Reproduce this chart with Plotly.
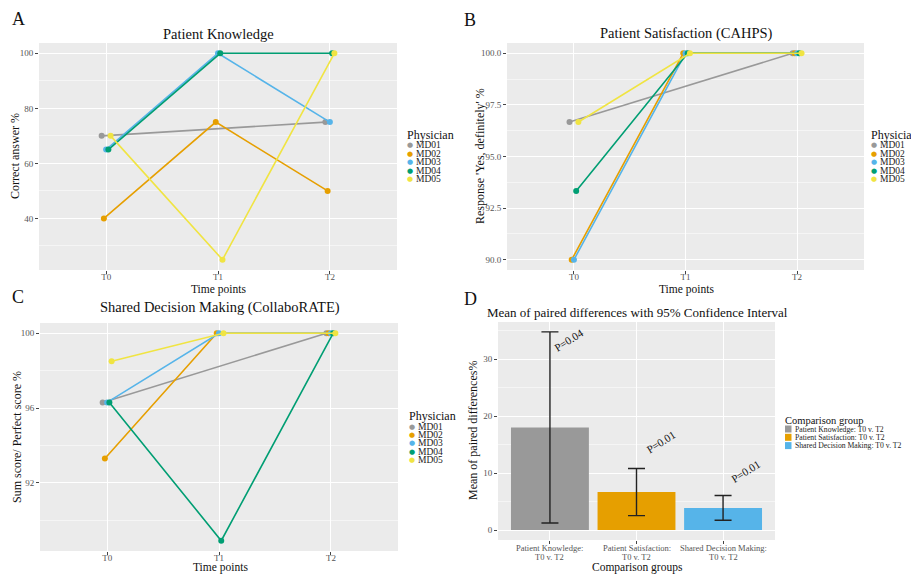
import plotly.graph_objects as go

# ---------------- data ----------------
physicians = ["MD01", "MD02", "MD03", "MD04", "MD05"]
time_points = ["T0", "T1", "T2"]
phys_colors = ["#999999", "#E69F00", "#56B4E9", "#009E73", "#F0E442"]

# rows: physicians, columns: T0, T1, T2 (None = missing)
knowledge = [
    [70, None, 75],
    [40, 75, 50],
    [65, 100, 75],
    [65, 100, 100],
    [70, 25, 100],
]
satisfaction = [
    [96.67, None, 100],
    [90.0, 100, 100],
    [90.0, 100, 100],
    [93.33, 100, 100],
    [96.67, 100, 100],
]
shared_decision = [
    [96.3, None, 100],
    [93.3, 100, 100],
    [96.3, 100, 100],
    [96.3, 88.9, 100],
    [98.5, 100, 100],
]

comparison_groups = ["Patient Knowledge: T0 v. T2",
                     "Patient Satisfaction: T0 v. T2",
                     "Shared Decision Making: T0 v. T2"]
comparison_tick_line1 = ["Patient Knowledge:", "Patient Satisfaction:", "Shared Decision Making:"]
comparison_tick_line2 = ["T0 v. T2", "T0 v. T2", "T0 v. T2"]
mean_diff = [18.0, 6.67, 3.86]
ci_low = [1.23, 2.53, 1.73]
ci_high = [34.77, 10.80, 6.07]
p_labels = ["P=0.04", "P=0.01", "P=0.01"]
bar_colors = ["#999999", "#E69F00", "#56B4E9"]

# ---------------- layout helpers ----------------
W, H = 919, 574
OFF = 8                      # default page body margin
FW, FH = W - OFF, H - OFF    # figure size
FONT = "Liberation Serif"


def px(x, y):
    return (x - OFF) / FW, 1 - (y - OFF) / FH


def dom_x(a, b):
    return [px(a, 0)[0], px(b, 0)[0]]


def dom_y(top, bottom):
    return [px(0, bottom)[1], px(0, top)[1]]


dodge = [-0.04, -0.02, 0.0, 0.02, 0.04]

fig = go.Figure()

panels = [(knowledge, "x", "y"), (satisfaction, "x2", "y2"), (shared_decision, "x3", "y3")]
for values, xa, ya in panels:
    for i, name in enumerate(physicians):
        xs = [t + dodge[i] for t in range(len(time_points))]
        fig.add_trace(go.Scatter(
            x=xs, y=values[i], mode="lines+markers", name=name,
            line=dict(color=phys_colors[i], width=1.6),
            marker=dict(color=phys_colors[i], size=6),
            connectgaps=True, showlegend=False, xaxis=xa, yaxis=ya,
        ))

group_idx = list(range(len(comparison_groups)))
fig.add_trace(go.Bar(
    x=group_idx, y=mean_diff,
    marker=dict(color=bar_colors, line=dict(width=0)), width=0.9,
    error_y=dict(type="data", symmetric=False,
                 array=[h - m for h, m in zip(ci_high, mean_diff)],
                 arrayminus=[m - l for m, l in zip(mean_diff, ci_low)],
                 color="#222222", thickness=1.4, width=8.5),
    showlegend=False, xaxis="x4", yaxis="y4",
))

tickfont = dict(family=FONT, size=9, color="#555555")


def xcat(domain, anchor, ticktext, show=True):
    return dict(domain=domain, anchor=anchor, range=[-0.6, 2.6], automargin=False,
                tickvals=[0, 1, 2], ticktext=ticktext, showticklabels=show,
                showgrid=True, gridcolor="white", gridwidth=1,
                zeroline=False, showline=False,
                ticks="outside", ticklen=3, tickcolor="#444444",
                ticklabelstandoff=-5,
                tickfont=tickfont)


def yax(domain, anchor, rng, dtick, minor, fmt=None, tick0=0):
    d = dict(domain=domain, anchor=anchor, range=rng, dtick=dtick, tick0=tick0,
             automargin=False,
             showgrid=True, gridcolor="white", gridwidth=1.1,
             minor=dict(dtick=minor, tick0=tick0, showgrid=True,
                        gridcolor="#F5F5F5", gridwidth=0.6, ticks=""),
             zeroline=False, showline=False,
             ticks="outside", ticklen=3, tickcolor="#444444",
             tickfont=tickfont)
    if fmt:
        d["tickformat"] = fmt
    return d


top_y = dom_y(43, 270)
fig.update_layout(
    width=FW, height=FH,
    margin=dict(l=0, r=0, t=0, b=0),
    paper_bgcolor="white", plot_bgcolor="#EBEBEB",
    font=dict(family=FONT),
    showlegend=False,
    xaxis=xcat(dom_x(39, 397), "y", time_points),
    yaxis=yax(top_y, "x", [21.25, 103.75], 20, 10),
    xaxis2=xcat(dom_x(507, 864), "y2", time_points),
    yaxis2=yax(top_y, "x2", [89.5, 100.5], 2.5, 1.25, fmt=".1f"),
    xaxis3=xcat(dom_x(40, 398), "y3", time_points),
    yaxis3=yax(dom_y(323, 551), "x3", [88.35, 100.55], 4, 2),
    xaxis4=xcat(dom_x(498, 775), "y4", comparison_tick_line1, show=False),
    yaxis4=yax(dom_y(322, 540), "x4", [-1.74, 36.5], 10, 5),
)

ann = []


def text_at(t, x, y, size, color="#111111", xanchor="center", family=FONT, **kw):
    xx, yy = px(x, y)
    ann.append(dict(text=t, x=xx, y=yy, xref="paper", yref="paper",
                    xanchor=xanchor, yanchor="middle", showarrow=False,
                    font=dict(family=family, size=size, color=color), **kw))


# panel letters
for letter, (x, y) in zip("ABCD", [(18, 19), (470, 20), (18, 297), (470, 299)]):
    text_at(letter, x, y, 18)
# panel titles
titles = [("Patient Knowledge", 218, 34, 14.5), ("Patient Satisfaction (CAHPS)", 686, 34, 14.5),
          ("Shared Decision Making (CollaboRATE)", 220, 307, 14.5),
          ("Mean of paired differences with 95% Confidence Interval", 637, 312, 13)]
for t, x, y, s in titles:
    text_at(t, x, y, s)

# D category labels (two tight lines, like the reference)
for i in group_idx:
    for line_text, y in [(comparison_tick_line1[i], 548), (comparison_tick_line2[i], 557)]:
        ann.append(dict(text=line_text, x=i, y=px(0, y)[1], xref="x4", yref="paper",
                        xanchor="center", yanchor="middle", showarrow=False,
                        font=dict(family=FONT, size=8.5, color="#555555")))

# axis titles
for t, x, y in [("Time points", 218, 289), ("Time points", 686, 289),
                ("Time points", 220, 567.5), ("Comparison groups", 637, 567.5)]:
    text_at(t, x, y, 11.5)
for t, x, y in [("Correct answer %", 15, 156), ("Response 'Yes, definitely' %", 480, 156),
                ("Sum score/ Perfect score %", 17, 437), ("Mean of paired differences%", 473, 431)]:
    text_at(t, x, y, 12, textangle=-90)

# physician legends
for lx, ly in [(405, 135), (869, 135), (407, 416)]:
    text_at("Physician", lx, ly, 12, xanchor="left")
    for i, name in enumerate(physicians):
        iy = ly + 10.5 + 8.4 * i
        text_at("●", lx + 5, iy, 7, color=phys_colors[i], family="DejaVu Sans")
        text_at(name, lx + 9, iy, 9.5, color="#222222", xanchor="left")

# comparison legend
text_at("Comparison group", 783, 420, 10.5, xanchor="left")
shapes = []
for i, g in enumerate(comparison_groups):
    iy = 429 + 8.3 * i
    x0, y0 = px(785, iy - 3.5)
    x1, y1 = px(791.5, iy + 3.5)
    shapes.append(dict(type="rect", xref="paper", yref="paper", x0=x0, x1=x1, y0=y1, y1=y0,
                       fillcolor=bar_colors[i], line=dict(width=0)))
    text_at(g, 793, iy, 7.7, color="#222222", xanchor="left")

# p-value labels
label_dx = [0.22, 0.28, 0.27]
label_y = [33.3, 15.5, 10.3]
for i, p in enumerate(p_labels):
    ann.append(dict(text=p, x=i + label_dx[i], y=label_y[i], xref="x4", yref="y4",
                    xanchor="center", yanchor="middle",
                    showarrow=False, textangle=-32,
                    font=dict(family=FONT, size=11, color="#111111")))

fig.update_layout(annotations=ann, shapes=shapes)
fig.write_html("out.html")
